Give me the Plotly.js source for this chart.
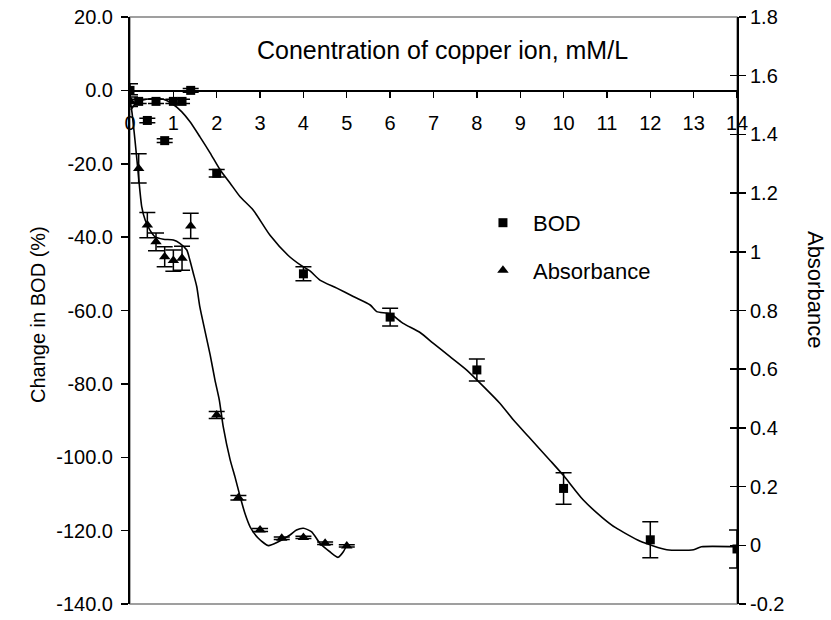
<!DOCTYPE html>
<html>
<head>
<meta charset="utf-8">
<script src="https://cdn.plot.ly/plotly-3.0.1.min.js"></script>
<style>
  html, body { margin: 0; padding: 0; background: #ffffff; }
  #chart { width: 831px; height: 620px; }
</style>
</head>
<body>
<div id="chart"></div>
<script>
// Copper ion concentration (mM/L) and measured change in BOD (%)
const bodConc  = [0, 0.2, 0.4, 0.6, 0.8, 1.0, 1.2, 1.4, 2, 4, 6, 8, 10, 12, 14];
const bodValue = [0, -3, -8.2, -3, -13.7, -3, -3, 0, -22.6, -50, -61.8, -76.2, -108.5, -122.5, -125];
const bodError = [1.8, 0.6, 0.6, 0.6, 0.5, 0.6, 0.6, 0.5, 1.0, 1.9, 2.4, 3.0, 4.3, 4.9, 5.2];

// Absorbance of the same samples
const absConc  = [0, 0.2, 0.4, 0.6, 0.8, 1.0, 1.2, 1.4, 2, 2.5, 3, 3.5, 4, 4.5, 5];
const absValue = [1.515, 1.284, 1.091, 1.034, 0.983, 0.97, 0.978, 1.088, 0.444, 0.162, 0.052, 0.024, 0.027, 0.007, -0.002];
const absError = [0.02, 0.05, 0.043, 0.03, 0.034, 0.036, 0.041, 0.043, 0.012, 0.008, 0.005, 0.004, 0.004, 0.004, 0.004];

// Smoothed trend curves
const bodTrendX = [0.02, 0.15, 0.38, 0.54, 0.77, 0.96, 1.19, 1.38, 1.61, 1.85, 2.08, 2.31, 2.54, 2.84, 3.23, 3.65, 3.92, 4.15, 4.38, 4.77, 5.15, 5.54, 5.69, 6.0, 6.3, 6.69, 6.99, 7.38, 7.76, 8.15, 8.53, 8.84, 9.2, 9.7, 10.0, 10.45, 10.9, 11.2, 11.77, 12.38, 13.0, 13.18, 14];
const bodTrendY = [-5.3, -3.3, -2.4, -2.2, -2.4, -3.5, -5.8, -8.5, -12.6, -17.1, -21.7, -25.3, -29.0, -32.6, -39.5, -45.0, -47.5, -49.2, -51.7, -53.9, -56.2, -58.5, -60.3, -60.9, -63.5, -66.0, -68.9, -72.6, -76.2, -80.7, -85.3, -89.8, -94.5, -101, -105, -111.6, -116.5, -119.2, -122.9, -125.2, -125.2, -124.4, -124.4];

const absTrendX = [0.0, 0.05, 0.115, 0.19, 0.27, 0.35, 0.46, 0.58, 0.77, 1.0, 1.15, 1.31, 1.38, 1.46, 1.54, 1.61, 1.73, 1.85, 1.96, 2.06, 2.15, 2.31, 2.42, 2.54, 2.65, 2.77, 2.96, 3.19, 3.42, 3.69, 3.84, 4.0, 4.19, 4.38, 4.61, 4.8, 4.92, 5.0];
const absTrendY = [1.52, 1.47, 1.38, 1.267, 1.154, 1.108, 1.074, 1.051, 1.043, 1.04, 1.029, 1.006, 0.972, 0.927, 0.881, 0.813, 0.73, 0.648, 0.563, 0.495, 0.404, 0.291, 0.234, 0.166, 0.109, 0.063, 0.024, -0.001, 0.012, 0.035, 0.052, 0.058, 0.046, 0.007, -0.022, -0.041, -0.022, 0.001];

// Axis ticks
const xTicks = [0, 1, 2, 3, 4, 5, 6, 7, 8, 9, 10, 11, 12, 13, 14];
const bodTickVals = [20, 0, -20, -40, -60, -80, -100, -120, -140];
const bodTickText = ["20.0", "0.0", "-20.0", "-40.0", "-60.0", "-80.0", "-100.0", "-120.0", "-140.0"];
const absTickVals = [1.8, 1.6, 1.4, 1.2, 1.0, 0.8, 0.6, 0.4, 0.2, 0, -0.2];
const absTickText = ["1.8", "1.6", "1.4", "1.2", "1", "0.8", "0.6", "0.4", "0.2", "0", "-0.2"];

const FONT = '"Liberation Sans", Arial, Helvetica, sans-serif';
const INK = '#000000';

const traces = [
  {
    x: bodTrendX, y: bodTrendY, type: 'scatter', mode: 'lines',
    line: { color: INK, width: 1.6, shape: 'spline', smoothing: 0.6 },
    hoverinfo: 'skip', showlegend: false, yaxis: 'y'
  },
  {
    x: absTrendX, y: absTrendY, type: 'scatter', mode: 'lines',
    line: { color: INK, width: 1.6, shape: 'spline', smoothing: 0.6 },
    hoverinfo: 'skip', showlegend: false, yaxis: 'y2'
  },
  {
    name: 'BOD', legendgroup: 'bod',
    x: bodConc, y: bodValue, type: 'scatter', mode: 'markers',
    marker: { symbol: 'square', size: 9, color: INK },
    error_y: { type: 'data', array: bodError, visible: true, color: INK, thickness: 1.5, width: 8 },
    yaxis: 'y'
  },
  {
    name: 'Absorbance', legendgroup: 'abs',
    x: absConc, y: absValue, type: 'scatter', mode: 'markers',
    marker: { symbol: 'triangle-up', size: 10, color: INK },
    error_y: { type: 'data', array: absError, visible: true, color: INK, thickness: 1.5, width: 8 },
    yaxis: 'y2'
  }
];

const layout = {
  width: 831, height: 620,
  margin: { l: 130, r: 94, t: 17, b: 16, pad: 0 },
  paper_bgcolor: '#ffffff', plot_bgcolor: '#ffffff',
  font: { family: FONT, size: 20, color: INK },
  showlegend: true,
  legend: {
    x: 0.565, y: 0.685, xanchor: 'left', yanchor: 'top',
    font: { family: FONT, size: 22, color: INK },
    itemwidth: 50, tracegroupgap: 16, bgcolor: 'rgba(0,0,0,0)', borderwidth: 0
  },
  xaxis: {
    range: [0, 14], tickvals: xTicks,
    anchor: 'free', position: 0.875,
    showline: true, linecolor: INK, linewidth: 1.3,
    ticks: 'outside', ticklen: 6, tickwidth: 1.3, tickcolor: INK,
    ticklabelstandoff: 8,
    tickfont: { family: FONT, size: 20, color: INK },
    showgrid: false, zeroline: false, fixedrange: true
  },
  yaxis: {
    range: [-140, 20], tickvals: bodTickVals, ticktext: bodTickText,
    showline: true, linecolor: INK, linewidth: 2,
    ticks: 'outside', ticklen: 7, tickwidth: 1.5, tickcolor: INK,
    ticklabelstandoff: 4,
    tickfont: { family: FONT, size: 20, color: INK },
    showgrid: false, zeroline: false, fixedrange: true
  },
  yaxis2: {
    range: [-0.2, 1.8], tickvals: absTickVals, ticktext: absTickText,
    overlaying: 'y', side: 'right',
    showline: true, linecolor: INK, linewidth: 2,
    ticks: 'outside', ticklen: 7, tickwidth: 1.5, tickcolor: INK,
    tickfont: { family: FONT, size: 20, color: INK },
    showgrid: false, zeroline: false, fixedrange: true
  },
  yaxis3: {
    range: [-0.2, 1.8], tickvals: absTickVals,
    overlaying: 'y', side: 'right', showticklabels: false,
    showline: false, ticks: 'inside', ticklen: 7, tickwidth: 1.5, tickcolor: INK,
    showgrid: false, zeroline: false, fixedrange: true
  },
  shapes: [
    { type: 'rect', xref: 'paper', yref: 'paper', x0: 0, x1: 1, y0: 0, y1: 1,
      line: { color: '#808080', width: 1.3 }, layer: 'below' }
  ],
  annotations: [
    { text: 'Conentration of copper ion, mM/L', xref: 'paper', yref: 'paper',
      x: 0.5148, y: 0.9438, xanchor: 'center', yanchor: 'middle', showarrow: false,
      font: { family: FONT, size: 25, color: INK } },
    { text: 'Change in BOD (%)', xref: 'paper', yref: 'paper',
      x: -0.1516, y: 0.494, xanchor: 'center', yanchor: 'middle', showarrow: false,
      textangle: -90, font: { family: FONT, size: 20, color: INK } },
    { text: 'Absorbance', xref: 'paper', yref: 'paper',
      x: 1.1285, y: 0.535, xanchor: 'center', yanchor: 'middle', showarrow: false,
      textangle: 90, font: { family: FONT, size: 22, color: INK } }
  ]
};

// an invisible trace keeps the inside-tick overlay axis drawn
traces.push({ x: [0], y: [0], yaxis: 'y3', type: 'scatter', mode: 'markers',
  marker: { opacity: 0 }, hoverinfo: 'skip', showlegend: false });

Plotly.newPlot('chart', traces, layout, { staticPlot: true, displayModeBar: false });
</script>
</body>
</html>
